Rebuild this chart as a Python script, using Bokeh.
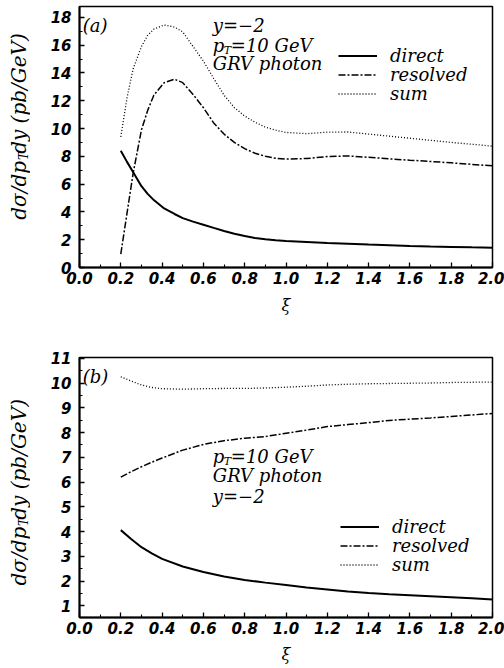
import math
from bokeh.plotting import figure
from bokeh.layouts import column, row
from bokeh.models import (Range1d, FixedTicker, Legend, LegendItem, Label,
                          NumeralTickFormatter)
from bokeh.core.properties import value
from bokeh.embed import file_html
from bokeh.resources import INLINE

# ---------------- data: panel (a) ----------------
xi_a = [0.2, 0.23, 0.26, 0.3, 0.33, 0.36, 0.41, 0.46, 0.5, 0.55, 0.6, 0.65, 0.7,
        0.75, 0.8, 0.85, 0.9, 0.95, 1.0, 1.1, 1.2, 1.3, 1.4, 1.5, 1.6, 1.7, 1.8, 1.9, 2.0]
direct_a = [8.4, 7.6, 6.85, 5.85, 5.3, 4.85, 4.25, 3.85, 3.55, 3.3, 3.08, 2.85, 2.63,
            2.43, 2.26, 2.13, 2.03, 1.96, 1.91, 1.84, 1.77, 1.71, 1.65, 1.6, 1.55,
            1.51, 1.48, 1.45, 1.43]
resolved_a = [0.96, 3.9, 6.8, 9.9, 11.3, 12.4, 13.3, 13.55, 13.3, 12.45, 11.5, 10.4, 9.6,
              9.0, 8.55, 8.22, 8.0, 7.86, 7.8, 7.84, 7.98, 8.03, 7.93, 7.82, 7.72,
              7.63, 7.53, 7.42, 7.32]
sum_a = [9.4, 12.2, 14.3, 15.9, 16.7, 17.15, 17.45, 17.3, 16.95, 15.9, 14.85, 13.6, 12.4,
         11.5, 10.9, 10.45, 10.1, 9.88, 9.72, 9.63, 9.74, 9.75, 9.6, 9.45, 9.3,
         9.15, 9.0, 8.87, 8.73]

# ---------------- data: panel (b) ----------------
xi_b = [0.2, 0.25, 0.3, 0.35, 0.4, 0.5, 0.6, 0.7, 0.8, 0.9, 1.0, 1.1, 1.2, 1.3, 1.4,
        1.5, 1.6, 1.7, 1.8, 1.9, 2.0]
direct_b = [4.06, 3.7, 3.37, 3.12, 2.9, 2.59, 2.37, 2.19, 2.05, 1.94, 1.84, 1.74, 1.66,
            1.58, 1.52, 1.47, 1.43, 1.39, 1.35, 1.31, 1.26]
resolved_b = [6.2, 6.42, 6.62, 6.8, 6.97, 7.29, 7.52, 7.67, 7.77, 7.84, 7.97, 8.1, 8.24,
              8.32, 8.4, 8.49, 8.54, 8.59, 8.65, 8.71, 8.77]
sum_b = [10.25, 10.08, 9.92, 9.82, 9.77, 9.75, 9.77, 9.78, 9.78, 9.8, 9.83, 9.87, 9.92,
         9.95, 9.97, 9.98, 9.99, 10.0, 10.02, 10.03, 10.04]

x_ticks = [0.0, 0.2, 0.4, 0.6, 0.8, 1.0, 1.2, 1.4, 1.6, 1.8, 2.0]
x_minor = [0.1, 0.3, 0.5, 0.7, 0.9, 1.1, 1.3, 1.5, 1.7, 1.9]
y_ticks_a = [0, 2, 4, 6, 8, 10, 12, 14, 16, 18]
y_minor_a = [1, 3, 5, 7, 9, 11, 13, 15, 17]
y_ticks_b = [1, 2, 3, 4, 5, 6, 7, 8, 9, 10, 11]
y_minor_b = [1.5, 2.5, 3.5, 4.5, 5.5, 6.5, 7.5, 8.5, 9.5, 10.5]

series_names = ["direct", "resolved", "sum"]
ylabel_parts = ["dσ/dp", "T", "dy (pb/GeV)"]
xlabel = "ξ"

SERIF = "DejaVu Serif"
TICKF = "DejaVu Sans"
LABW = 30          # width of the strip that holds the rotated y title
W = 504 - LABW


def make_fig(height, top, bottom, y0, y1, yt, ym):
    p = figure(width=W, height=height, output_backend="svg", toolbar_location=None,
               x_range=Range1d(0, 2.0), y_range=Range1d(y0, y1),
               min_border_left=79 - LABW, min_border_right=12,
               min_border_top=top, min_border_bottom=bottom)
    p.grid.visible = False
    p.outline_line_color = "black"
    p.outline_line_width = 1.5
    p.background_fill_color = "white"
    p.border_fill_color = "white"
    p.xaxis.ticker = FixedTicker(ticks=x_ticks, minor_ticks=x_minor)
    p.yaxis.ticker = FixedTicker(ticks=yt, minor_ticks=ym)
    p.xaxis.formatter = NumeralTickFormatter(format="0.0")
    for ax in (p.xaxis, p.yaxis):
        ax.axis_line_width = 2
        ax.axis_line_color = "black"
        ax.major_tick_in = 5
        ax.major_tick_out = 0
        ax.minor_tick_in = 3
        ax.minor_tick_out = 0
        ax.major_tick_line_width = 1.3
        ax.minor_tick_line_width = 1.1
        ax.major_label_text_font = TICKF
        ax.major_label_text_font_style = "bold italic"
        ax.major_label_text_font_size = "15px"
        ax.major_label_text_color = "black"
        ax.axis_label_text_color = "black"
    p.xaxis.major_label_standoff = 4
    p.yaxis.major_label_standoff = 8
    p.xaxis.axis_label = xlabel
    p.xaxis.axis_label_text_font = SERIF
    p.xaxis.axis_label_text_font_style = "italic"
    p.xaxis.axis_label_text_font_size = "16px"
    return p


def make_ylabel(height, y0):
    # narrow strip holding the rotated title; 1 data unit = 1 pixel
    q = figure(width=LABW, height=height, output_backend="svg", toolbar_location=None,
               x_range=Range1d(0, LABW), y_range=Range1d(0, height),
               x_axis_type=None, y_axis_type=None, min_border=0)
    q.grid.visible = False
    q.outline_line_color = None
    common = dict(angle=math.pi / 2, text_baseline="middle",
                  text_font=value(SERIF), text_font_style="italic", text_color="black")
    q.text(x=[18], y=[y0], text=[ylabel_parts[0]], text_align="right",
           text_font_size="20px", **common)
    q.text(x=[23], y=[y0 + 1], text=[ylabel_parts[1]], text_align="left",
           text_font_size="12px", **common)
    q.text(x=[18], y=[y0 + 9], text=[ylabel_parts[2]], text_align="left",
           text_font_size="20px", **common)
    return q


def add_curves(p, x, d, r, s, locs):
    r1 = p.line(x, d, line_color="black", line_width=2)
    r2 = p.line(x, r, line_color="black", line_width=1.5, line_dash="7 2 2 2")
    r3 = p.line(x, s, line_color="black", line_width=1.3, line_dash="1 2")
    for name, rend, loc in zip(series_names, [r1, r2, r3], locs):
        leg = Legend(items=[LegendItem(label=name, renderers=[rend])],
                     location=loc, border_line_alpha=0, background_fill_alpha=0,
                     padding=0, margin=0, spacing=0, glyph_width=39, glyph_height=15,
                     label_height=15, label_standoff=13,
                     label_text_font=SERIF, label_text_font_style="italic",
                     label_text_font_size="18px", label_text_color="black")
        p.add_layout(leg)


def add_text(p, x, y, text, size="18px", dx=0, dy=0):
    p.add_layout(Label(x=x, y=y, text=text, x_offset=dx, y_offset=dy,
                       text_baseline="middle", text_align="left",
                       text_font=SERIF, text_font_style="italic",
                       text_font_size=size, text_color="black"))


def add_pt(p, x, y):
    add_text(p, x, y, "p")
    add_text(p, x, y, "T", size="11px", dx=11, dy=-5)
    add_text(p, x, y, "=10 GeV", dx=18)


# ---------------- panel (a) ----------------
H1, H2 = 333, 335
p1 = make_fig(H1, 6, 66, 0, 18.78, y_ticks_a, y_minor_a)
p1.xaxis.axis_label_standoff = 9
add_curves(p1, xi_a, direct_a, resolved_a, sum_a, [(259, 201), (259, 182), (259, 163)])
add_text(p1, 0.016, 17.39, "(a)")
add_text(p1, 0.6455, 17.39, "y=−2")
add_pt(p1, 0.6455, 15.95)
add_text(p1, 0.6455, 14.65, "GRV photon")
q1 = make_ylabel(H1, 136)

# ---------------- panel (b) ----------------
p2 = make_fig(H2, 24, 51, 0.532, 11.03, y_ticks_b, y_minor_b)
p2.xaxis.axis_label_standoff = 8
add_curves(p2, xi_b, direct_b, resolved_b, sum_b, [(261, 80), (261, 61), (261, 42)])
add_text(p2, 0.016, 10.25, "(b)")
add_pt(p2, 0.6455, 7.02)
add_text(p2, 0.6455, 6.28, "GRV photon")
add_text(p2, 0.6455, 5.40, "y=−2")
q2 = make_ylabel(H2, 117)

layout = column(row(q1, p1, spacing=0), row(q2, p2, spacing=0), spacing=0)
open("out.html", "w").write(file_html(layout, INLINE))
